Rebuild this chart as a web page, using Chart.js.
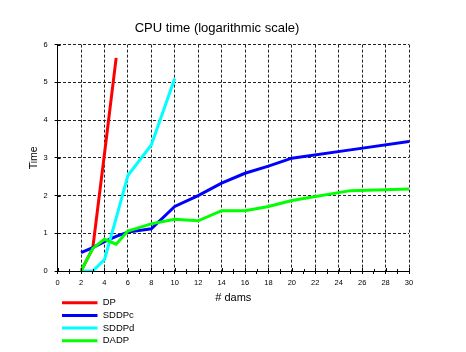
<!DOCTYPE html>
<html>
<head>
<meta charset="utf-8">
<title>CPU time</title>
<script src="https://cdn.jsdelivr.net/npm/chart.js@4.4.1/dist/chart.umd.min.js"></script>
<style>
    body { margin: 0; background: #fff; }
    #wrap { width: 466px; height: 352px; }
</style>
</head>
<body>
<div id="wrap"><canvas id="cpuChart" width="466" height="352"></canvas></div>
<script>
// values (x = number of dams, y = time)
const dpDams = [2, 3, 4, 5];
const dpTime = [0, 0.6, 3.1, 5.65];

const sddpcDams = [2, 3, 4, 5, 6, 8, 10, 12, 14, 16, 18, 20, 25, 30];
const sddpcTime = [0.49, 0.62, 0.78, 0.92, 1.03, 1.12, 1.71, 2.0, 2.33, 2.59, 2.78, 2.99, 3.21, 3.43];

const sddpdDams = [2, 3, 4, 5, 6, 8, 10];
const sddpdTime = [0, 0, 0.3, 1.4, 2.53, 3.34, 5.1];

const dadpDams = [2, 3, 4, 5, 6, 8, 10, 12, 14, 16, 18, 20, 25, 30];
const dadpTime = [0, 0.6, 0.84, 0.71, 1.06, 1.25, 1.37, 1.33, 1.6, 1.6, 1.71, 1.87, 2.13, 2.17];

const seriesNames = ["DP", "SDDPc", "SDDPd", "DADP"];
const seriesColors = ["#ff0000", "#0000ff", "#00ffff", "#00ff00"];

function toPoints(xs, ys) {
    let pts = [];
    for (var i = 0; i < xs.length; i++) {
        pts[i] = {x: xs[i], y: ys[i]};
    }
    return pts;
}

Chart.defaults.font.family = "'Liberation Sans', Arial, sans-serif";
Chart.defaults.color = "#000";

// legend under the axis, one row per series
const sideLegend = {
    id: "sideLegend",
    afterDraw(chart) {
        const ctx = chart.ctx;
        ctx.save();
        ctx.font = "9.5px 'Liberation Sans', Arial, sans-serif";
        ctx.textBaseline = "middle";
        ctx.fillStyle = "#000";
        for (var i = 0; i < seriesNames.length; i++) {
            const y = 302.7 + i * 12.7;
            ctx.strokeStyle = seriesColors[i];
            ctx.lineWidth = 3;
            ctx.beginPath();
            ctx.moveTo(62, y);
            ctx.lineTo(97.5, y);
            ctx.stroke();
            ctx.fillText(seriesNames[i], 102.7, y);
        }
        ctx.restore();
    }
};

// tick marks poking inside the plot, like the original axis
const innerTicks = {
    id: "innerTicks",
    afterDraw(chart) {
        const ctx = chart.ctx;
        const xs = chart.scales.x;
        const ys = chart.scales.y;
        ctx.save();
        ctx.strokeStyle = "#000";
        ctx.lineWidth = 1;
        ctx.beginPath();
        xs.ticks.forEach(t => {
            const px = Math.round(xs.getPixelForValue(t.value)) + 0.5;
            const len = t.value % 2 === 0 ? 3 : 2;
            ctx.moveTo(px, ys.bottom);
            ctx.lineTo(px, ys.bottom - len);
        });
        ys.ticks.forEach(t => {
            const py = Math.round(ys.getPixelForValue(t.value)) + 0.5;
            ctx.moveTo(xs.left, py);
            ctx.lineTo(xs.left + 3, py);
        });
        ctx.stroke();
        ctx.restore();
    }
};

const allDams = [dpDams, sddpcDams, sddpdDams, dadpDams];
const allTime = [dpTime, sddpcTime, sddpdTime, dadpTime];

let datasets = [];
for (var i = 0; i < seriesNames.length; i++) {
    datasets[i] = {
        label: seriesNames[i],
        data: toPoints(allDams[i], allTime[i]),
        borderColor: seriesColors[i],
        backgroundColor: seriesColors[i],
        borderWidth: 3,
        pointRadius: 0,
        tension: 0,
        order: seriesNames.length - i
    };
}

new Chart("cpuChart", {
    type: "line",
    data: {datasets: datasets},
    options: {
        responsive: false,
        animation: false,
        layout: {padding: {left: 25, right: 57, top: 0, bottom: 45}},
        plugins: {
            legend: {display: false},
            tooltip: {enabled: false},
            title: {
                display: true,
                text: "CPU time (logarithmic scale)",
                color: "#000",
                font: {size: 13, weight: "normal"},
                padding: {top: 21, bottom: 8}
            }
        },
        scales: {
            x: {
                type: "linear",
                min: 0, max: 30,
                ticks: {
                    stepSize: 1,
                    autoSkip: false,
                    maxRotation: 0,
                    padding: 4,
                    font: {size: 7.5},
                    callback: v => (v % 2 === 0 ? v : "")
                },
                grid: {
                    color: c => (c.tick && c.tick.value % 2 === 0 ? "#222" : "rgba(0,0,0,0)"),
                    tickColor: "#000",
                    tickLength: 3,
                    lineWidth: 1
                },
                border: {display: true, color: "#000", width: 1, dash: [3, 2]},
                title: {
                    display: true,
                    text: "# dams",
                    font: {size: 11},
                    padding: {top: 0, bottom: 2}
                },
                afterFit: s => { s.height = 36; }
            },
            y: {
                min: 0, max: 6,
                ticks: {stepSize: 1, padding: 7, font: {size: 7.5}},
                grid: {color: "#222", tickColor: "#000", tickLength: 3, lineWidth: 1},
                border: {display: true, color: "#000", width: 1, dash: [3, 2]},
                title: {
                    display: true,
                    text: "Time",
                    font: {size: 10.5},
                    padding: {top: 3, bottom: 0}
                },
                afterFit: s => { s.width = 32.6; }
            }
        }
    },
    plugins: [sideLegend, innerTicks]
});
</script>
</body>
</html>
